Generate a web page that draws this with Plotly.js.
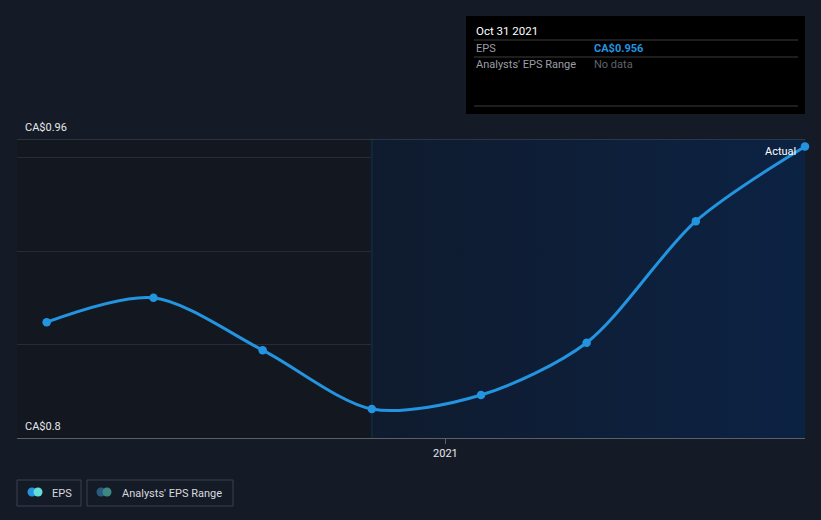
<!DOCTYPE html>
<html><head><meta charset="utf-8">
<script src="https://cdn.plot.ly/plotly-3.0.1.min.js"></script>
<style>html,body{margin:0;padding:0;background:#151b26;}#chart{width:821px;height:520px;}</style>
</head><body><div id="chart"></div>
<script>
// ---- data ----
const dates = ['2020-01-31','2020-04-30','2020-07-31','2020-10-31','2021-01-31','2021-04-30','2021-07-31','2021-10-31'];
const eps = [0.862, 0.875, 0.847, 0.8155, 0.823, 0.851, 0.916, 0.956];
const yTickVals = [0.8, 0.96];
const yTickLabels = ['CA$0.8', 'CA$0.96'];
const gridVals = [0.85, 0.90, 0.95];
const xTickVals = ['2021-01-01'];
const xTickLabels = ['2021'];
const xRange = ['2020-01-06', '2021-10-31'];
const yRange = [0.8, 0.96];
const forecastStart = '2020-10-31';
const tooltipDate = 'Oct 31 2021';
const tooltipEps = 'CA$0.956';
const legendLabels = ['EPS', "Analysts' EPS Range"];

// ---- layout helpers (pixel -> paper) ----
const L = 17, R = 805, T = 139, B = 438;
const px = x => (x - L) / (R - L);
const py = y => (B - y) / (B - T);
const FONT = 'Roboto, "Open Sans", sans-serif';

const shapes = [];
const annotations = [];

// background regions
shapes.push({type:'rect', xref:'x', yref:'y', x0:xRange[0], x1:forecastStart, y0:yRange[0], y1:yRange[1], fillcolor:'#13171f', line:{width:0}, layer:'below'});
// top line
shapes.push({type:'line', xref:'paper', yref:'y', x0:0, x1:1, y0:yRange[1], y1:yRange[1], line:{color:'#4a4f5a', width:1}});

// y tick labels
yTickVals.forEach((v,i)=>{
  annotations.push({xref:'paper', yref:'y', x:0, y:v, xanchor:'left', yanchor:'bottom', xshift:6, yshift:3, text:yTickLabels[i], showarrow:false, font:{family:FONT, size:11, color:'#e6e8ec'}});
});

// Actual label
annotations.push({xref:'x', yref:'y', x:dates[dates.length-1], y:eps[eps.length-1], xanchor:'right', yanchor:'middle', xshift:-7, yshift:-5, text:'Actual', showarrow:false, font:{family:FONT, size:11, color:'#ffffff'}});

// tooltip box
shapes.push({type:'rect', xref:'paper', yref:'paper', x0:px(466), x1:px(805), y0:py(16), y1:py(114), fillcolor:'#000000', line:{width:0}});
[40, 57, 106].forEach(y=>{
  shapes.push({type:'line', xref:'paper', yref:'paper', x0:px(474), x1:px(798), y0:py(y), y1:py(y), line:{color:'#3d3d3d', width:1}});
});
annotations.push({xref:'paper', yref:'paper', x:px(474), y:py(31), xanchor:'left', yanchor:'middle', text:tooltipDate, showarrow:false, font:{family:FONT, size:11.5, color:'#ffffff'}});
annotations.push({xref:'paper', yref:'paper', x:px(474), y:py(48), xanchor:'left', yanchor:'middle', text:legendLabels[0], showarrow:false, font:{family:FONT, size:11, color:'#9a9ea6'}});
annotations.push({xref:'paper', yref:'paper', x:px(592), y:py(48), xanchor:'left', yanchor:'middle', text:'<b>'+tooltipEps+'</b>', showarrow:false, font:{family:FONT, size:11, color:'#2394e0'}});
annotations.push({xref:'paper', yref:'paper', x:px(474), y:py(65), xanchor:'left', yanchor:'middle', text:legendLabels[1], showarrow:false, font:{family:FONT, size:11, color:'#9a9ea6'}});
annotations.push({xref:'paper', yref:'paper', x:px(592), y:py(65), xanchor:'left', yanchor:'middle', text:'No data', showarrow:false, font:{family:FONT, size:11, color:'#5f636b'}});

// legend boxes
function rrect(x0,y0,x1,y1){
  shapes.push({type:'rect', xref:'paper', yref:'paper', x0:px(x0), x1:px(x1), y0:py(y1), y1:py(y0), fillcolor:'rgba(0,0,0,0)', line:{color:'#3a404c', width:1}});
}
function circ(cx,cy,r,color){
  shapes.push({type:'circle', xref:'paper', yref:'paper', x0:px(cx-r), x1:px(cx+r), y0:py(cy+r), y1:py(cy-r), fillcolor:color, line:{width:0}});
}
rrect(17,480,81,506);
rrect(87,480,233,506);
circ(32,492,4.5,'#2394e0'); circ(38,492,4.5,'#62e0d8');
circ(101,492,4.5,'#2a5a80'); circ(107,492,4.5,'#3e8884');
annotations.push({xref:'paper', yref:'paper', x:px(50), y:py(493), xanchor:'left', yanchor:'middle', text:legendLabels[0], showarrow:false, font:{family:FONT, size:11, color:'#d6d9de'}});
annotations.push({xref:'paper', yref:'paper', x:px(120), y:py(493), xanchor:'left', yanchor:'middle', text:legendLabels[1], showarrow:false, font:{family:FONT, size:11, color:'#d6d9de'}});

const traces = [
  { // forecast-period shaded region with gradient
    x:[forecastStart, xRange[1], xRange[1], forecastStart, forecastStart],
    y:[yRange[0], yRange[0], yRange[1], yRange[1], yRange[0]],
    type:'scatter', mode:'lines', fill:'toself', line:{width:0},
    fillgradient:{type:'horizontal', colorscale:[[0,'#0f1b2e'],[1,'#0c2243']]},
    hoverinfo:'skip', showlegend:false
  },
  { // divider at forecast start
    x:[forecastStart, forecastStart], y:yRange, type:'scatter', mode:'lines',
    line:{color:'#12283a', width:2}, hoverinfo:'skip', showlegend:false
  },
  {
    x:dates, y:eps, type:'scatter', mode:'lines+markers',
    line:{color:'#2394e0', width:3, shape:'spline', smoothing:0.85},
    marker:{color:'#2394e0', size:8.5},
    cliponaxis:false, showlegend:false, name:'EPS'
  }
];

const layout = {
  width:821, height:520,
  margin:{l:L, r:821-R, t:T, b:520-B},
  paper_bgcolor:'#151b26', plot_bgcolor:'#151b26',
  showlegend:false,
  xaxis:{type:'date', range:xRange, tickvals:xTickVals, ticktext:xTickLabels, showgrid:false, zeroline:false,
    showline:true, linecolor:'#5a5f6a', linewidth:1, ticks:'outside', ticklen:5, tickcolor:'#5a5f6a',
    tickfont:{family:FONT, size:11, color:'#e6e8ec'}, fixedrange:true},
  yaxis:{range:yRange, tickvals:gridVals, showticklabels:false, showgrid:true, gridcolor:'#252c38', gridwidth:1, zeroline:false, showline:false, fixedrange:true},
  shapes:shapes, annotations:annotations,
  font:{family:FONT}
};

Plotly.newPlot('chart', traces, layout, {displayModeBar:false, staticPlot:true});
</script></body></html>
